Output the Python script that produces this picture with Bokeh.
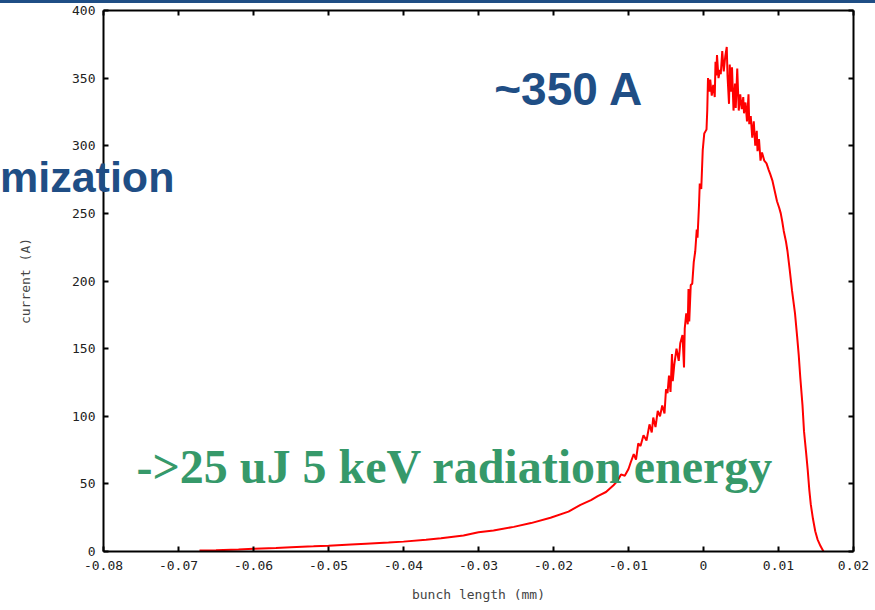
from bokeh.plotting import figure
from bokeh.models import Label, LinearAxis, FixedTicker, Div, Range1d, GridBox
from bokeh.embed import file_html
from bokeh.resources import INLINE

# ---- data ----
bunch_length = [
    -0.0672, -0.065, -0.062, -0.060, -0.057, -0.055, -0.052, -0.050, -0.047, -0.045,
    -0.042, -0.040, -0.037, -0.035, -0.032, -0.030, -0.028, -0.0253, -0.023, -0.0204,
    -0.018, -0.0164, -0.0150, -0.0141, -0.0130, -0.0120, -0.0115, -0.0110, -0.0105, -0.0100,
    -0.0097, -0.0093, -0.0090, -0.0087, -0.0084, -0.0080, -0.0076, -0.0072, -0.0069, -0.0067,
    -0.0064, -0.0061, -0.0058, -0.0055, -0.0052, -0.0050, -0.0048, -0.0046, -0.0044, -0.0042,
    -0.0041, -0.0039, -0.0036, -0.0033, -0.0031, -0.0028, -0.0026, -0.0025, -0.0023, -0.0021,
    -0.0020, -0.0019, -0.0017, -0.0015, -0.0013, -0.0011, -0.0009, -0.0008, -0.0006, -0.0005,
    -0.0003, -0.0001, 0.0001, 0.0003, 0.0004, 0.0005, 0.0006, 0.0008, 0.0009, 0.0011,
    0.0013, 0.0015, 0.0016, 0.0017, 0.0018, 0.0020, 0.0022, 0.0023, 0.0025, 0.0027,
    0.0029, 0.0031, 0.0032, 0.0034, 0.0035, 0.0037, 0.0038, 0.0040, 0.0042, 0.0043,
    0.0045, 0.0047, 0.0049, 0.0051, 0.0053, 0.0054, 0.0056, 0.0058, 0.0060, 0.0061,
    0.0063, 0.0065, 0.0067, 0.0069, 0.0071, 0.0072, 0.0074, 0.0076, 0.0078, 0.0081,
    0.0084, 0.0087, 0.0089, 0.0092, 0.0094, 0.0096, 0.0098, 0.0101, 0.0103, 0.0105,
    0.0107, 0.0110, 0.0112, 0.0115, 0.0118, 0.0122, 0.0125, 0.0127, 0.0129, 0.0132,
    0.0134, 0.0137, 0.0139, 0.0141, 0.0143, 0.0146, 0.0149, 0.0152, 0.0156, 0.0158,
    0.0160,
]
current = [
    0.8, 1.0, 1.5, 2.0, 2.6, 3.2, 3.8, 4.3, 5.2, 5.8,
    6.6, 7.3, 8.6, 9.8, 11.8, 14.2, 15.6, 18.2, 21, 25,
    29.5, 34.5, 38, 41, 44, 49, 52, 57, 56, 61,
    66, 72, 68, 80, 78, 86, 82, 94, 88, 99,
    92, 104, 100, 108, 102, 120, 117, 130, 118, 146,
    126, 138, 150, 141, 154, 160, 136, 165, 176, 168,
    194, 170, 197, 198, 214, 222, 238, 232, 256, 272,
    268, 297, 309, 311, 312, 326, 350, 340, 349, 337,
    345, 336, 362, 352, 367, 350, 356, 353, 370, 355,
    366, 373, 352, 331, 360, 340, 358, 326, 346, 328,
    357, 326, 338, 327, 336, 324, 332, 318, 338, 316,
    322, 306, 318, 300, 311, 296, 305, 289, 295, 289,
    287, 282, 279, 274, 269, 264, 259, 254, 250, 244,
    237, 229, 222, 208, 193, 176, 158, 145, 129, 108,
    89, 72, 60, 46, 35, 24, 15, 9, 4, 2,
    0,
]
x_ticks = [-0.08, -0.07, -0.06, -0.05, -0.04, -0.03, -0.02, -0.01, 0, 0.01, 0.02]
x_tick_labels = ["-0.08", "-0.07", "-0.06", "-0.05", "-0.04", "-0.03", "-0.02", "-0.01", "0", "0.01", "0.02"]
y_ticks = [0, 50, 100, 150, 200, 250, 300, 350, 400]
y_tick_labels = ["0", "50", "100", "150", "200", "250", "300", "350", "400"]

BLUE = "#1f4e85"
GREEN = "#36996a"
MONO = "DejaVu Sans Mono"

W, H = 875, 607
BL, BR, BT, BB = 103, 22, 7, 59
X0, X1, Y0, Y1 = -0.08, 0.02, 0, 400

p = figure(width=W, height=H, output_backend="svg", toolbar_location=None,
           x_range=Range1d(X0, X1), y_range=Range1d(Y0, Y1),
           min_border_left=BL, min_border_right=BR, min_border_top=BT, min_border_bottom=BB,
           background_fill_color="white", border_fill_color="white")
p.outline_line_color = None
p.grid.visible = False

p.line(bunch_length, current, line_color="#ff0000", line_width=2)

def style_axis(ax, ticks, labels, show_labels=True):
    ax.ticker = FixedTicker(ticks=ticks)
    ax.axis_line_color = "black"
    ax.axis_line_width = 2
    ax.major_tick_line_color = "black"
    ax.major_tick_line_width = 2
    ax.major_tick_in = 5
    ax.major_tick_out = 0
    ax.minor_tick_line_color = None
    ax.major_label_text_font = MONO
    if show_labels:
        ax.major_label_overrides = {t: l for t, l in zip(ticks, labels)}
        ax.major_label_text_font_size = "13px"
        ax.major_label_text_color = "#222222"
    else:
        ax.major_label_text_font_size = "1px"
        ax.major_label_text_color = None
        ax.major_label_standoff = 0

xa = p.xaxis[0]
style_axis(xa, x_ticks, x_tick_labels)
xa.major_label_standoff = 9
xa.axis_label = "bunch length (mm)"
xa.axis_label_text_font = MONO
xa.axis_label_text_font_size = "13px"
xa.axis_label_text_font_style = "normal"
xa.axis_label_standoff = 14

ya = p.yaxis[0]
style_axis(ya, y_ticks, y_tick_labels)
ya.major_label_standoff = 8
ya.axis_label = "current (A)"
ya.axis_label_text_font = MONO
ya.axis_label_text_font_size = "13px"
ya.axis_label_text_font_style = "normal"
ya.axis_label_standoff = 36

top_ax = LinearAxis()
style_axis(top_ax, x_ticks, x_tick_labels, show_labels=False)
p.add_layout(top_ax, "above")
right_ax = LinearAxis()
style_axis(right_ax, y_ticks, y_tick_labels, show_labels=False)
p.add_layout(right_ax, "right")

# slide texts inside the frame (data units)
p.add_layout(Label(x=-0.0279, y=342, text="~350 A", text_font="Liberation Sans",
                   text_font_style="bold", text_font_size="46px", text_color=BLUE,
                   text_baseline="alphabetic"))
p.add_layout(Label(x=-0.0756, y=63, text="->25 uJ 5 keV radiation energy",
                   text_font="Liberation Serif", text_font_style="bold",
                   text_font_size="48px", text_color=GREEN, text_baseline="alphabetic"))

# slide title fragment that runs across the left axis: HTML overlay, placed from data coords
dx = (X1 - X0) / (W - BL - BR)
dy = (Y1 - Y0) / (H - BT - BB)
title_y, title_size = 265, 43
baseline_px = BT + (Y1 - title_y) / dy
top_px = baseline_px - (0.905 * title_size - (1.117 * title_size - title_size) / 2)
overlay_html = (
    f'<div style="position:relative;width:{W}px;height:{H}px;pointer-events:none;">'
    f'<span style="position:absolute;left:0px;top:{top_px:.1f}px;'
    f"font-family:'Liberation Sans';font-weight:bold;font-size:{title_size}px;"
    f'line-height:{title_size}px;color:{BLUE};white-space:nowrap;">mization</span></div>'
)
overlay = Div(text=overlay_html, width=W, height=H, margin=(0, 0, 0, 0))

bar = Div(text="", width=W, height=3, margin=(0, 0, 0, 0),
          styles={"background-color": BLUE})

layout = GridBox(children=[(bar, 0, 0), (p, 1, 0), (overlay, 1, 0)], spacing=0)
open("out.html", "w").write(file_html(layout, INLINE))
